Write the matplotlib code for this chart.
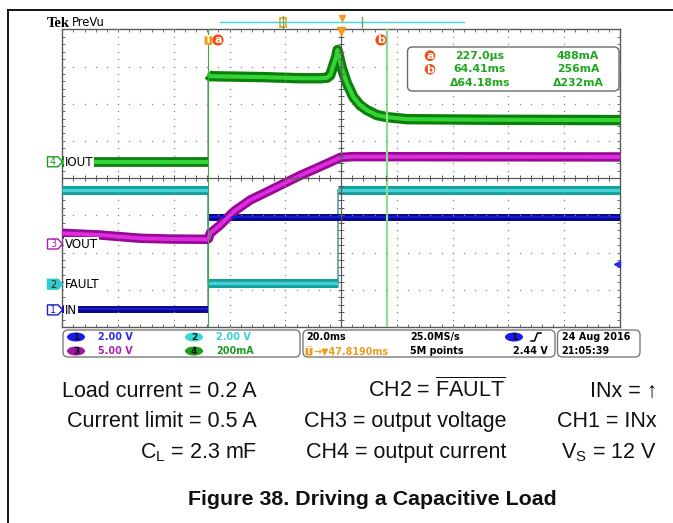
import numpy as np
import matplotlib
matplotlib.use("Agg")
import matplotlib.pyplot as plt
from matplotlib.patches import FancyBboxPatch, Polygon, Rectangle, Ellipse, Circle

time_per_div_ms = 20.0
trigger_pos_ms = 47.819          # time of screen centre, t=0 at the IN rising edge
n_xdiv, n_ydiv = 10, 8

ch_names = ["IN", "FAULT", "VOUT", "IOUT"]
ch_scale = [2.0, 2.0, 5.0, 200.0]            # V/div, V/div, V/div, mA/div
ch_scale_text = ["2.00 V", "2.00 V", "5.00 V", "200mA"]
ch_ground_div = [0.46, 1.15, 2.23, 4.44]     # ground marker position (div from bottom)

# CH1 IN (V)
in_edges_ms = [0.0]
in_levels_v = [0.05, 5.0]
# CH2 FAULT (V)
fault_edges_ms = [0.0, 46.85]
fault_levels_v = [5.06, 0.05, 5.06]
# CH3 VOUT (V)
vout_t_ms = [-52.18, -38.6, -24.2, -13.5, -0.2, 0.26, 0.87, 4.45, 9.22, 15.2,
             21.2, 27.1, 33.1, 39.1, 45.06, 47.5, 52.0, 100.0, 147.82]
vout_v = [1.44, 1.21, 0.77, 0.67, 0.63, 0.74, 1.44, 2.55, 4.34, 5.91,
          7.00, 8.10, 9.20, 10.20, 11.20, 11.64, 11.74, 11.72, 11.70]
# CH4 IOUT (mA)
iout_pre_t_ms = [-52.18, 0.0]
iout_pre_ma = [0.0, 0.0]
iout_post_t_ms = [0.0, 0.87, 20.0, 33.1, 40.3, 42.8, 43.9, 45.06, 46.03, 46.5,
                  48.07, 49.86, 52.23, 54.63, 57.03, 60.61, 64.2, 71.4, 100.0, 147.82]
iout_post_ma = [470, 460, 455, 449, 449, 452, 465, 519, 562, 600,
                503, 423, 347, 304, 278, 251, 240, 229, 226, 224]

cursor_a_ms, cursor_b_ms = 0.227, 64.41
trigger_level_v = 2.44
meas_labels = ["a", "b", ""]
meas_time = ["227.0µs", "64.41ms", "Δ64.18ms"]
meas_value = ["488mA", "256mA", "Δ232mA"]
status_time = ["20.0ms", "→▼47.8190ms"]
status_rate = ["25.0MS/s", "5M points"]
status_date = ["24 Aug 2016", "21:05:39"]

cap_col1 = ["Load current = 0.2 A", "Current limit = 0.5 A", r"C$_\mathrm{L}$ = 2.3 mF"]
cap_col2 = [r"CH2 = $\overline{\mathrm{FAULT}}$", "CH3 = output voltage", "CH4 = output current"]
cap_col3 = ["INx = ↑", "CH1 = INx", r"V$_\mathrm{S}$ = 12 V"]
title = "Figure 38. Driving a Capacitive Load"

# ---------------- styles ----------------
plt.rcParams['mathtext.fontset'] = 'custom'
plt.rcParams['mathtext.rm'] = 'Liberation Sans'
plt.rcParams['mathtext.it'] = 'Liberation Sans:italic'
plt.rcParams['mathtext.bf'] = 'Liberation Sans:bold'

W, H = 673, 523
L, R, T, B = 62.3, 620.0, 29.3, 327.0
GREEN_D, GREEN_L = '#0b7f0b', '#33d433'
CYAN_D, CYAN_L = '#15a0a0', '#45d2d2'
MAG_D, MAG_L = '#960a96', '#e02ce0'
BLUE_D, BLUE_L = '#06068e', '#1a1ad0'
ORANGE = '#f39a1e'
ORED = '#f04e18'
UI = ['DejaVu Sans']

fig = plt.figure(figsize=(W / 100, H / 100), dpi=100)
ax = fig.add_axes([L / W, 1 - B / H, (R - L) / W, (B - T) / H])
T0 = trigger_pos_ms - time_per_div_ms * n_xdiv / 2
T1 = T0 + time_per_div_ms * n_xdiv
ax.set_xlim(T0, T1)
ax.set_ylim(0, n_ydiv)
for s in ax.spines.values():
    s.set_color('#5a5a5a')
    s.set_linewidth(1.0)
ax.set_xticks([T0 + k * time_per_div_ms for k in range(n_xdiv + 1)])
ax.set_xticks([T0 + k * time_per_div_ms / 5 for k in range(n_xdiv * 5 + 1)], minor=True)
ax.set_yticks(range(n_ydiv + 1))
ax.set_yticks(np.arange(0, n_ydiv + 0.01, 0.2), minor=True)
ax.tick_params(which='both', direction='in', length=2.2, width=0.7, color='#6a6a6a',
               top=True, right=True, labelbottom=False, labelleft=False)


def to_div(vals, ch):
    return ch_ground_div[ch] + np.asarray(vals, float) / ch_scale[ch]


def band(t, d, dark, light, lw_o, lw_i):
    ax.plot(t, d, color=dark, lw=lw_o, solid_capstyle='butt', solid_joinstyle='round', zorder=3)
    ax.plot(t, d, color=light, lw=lw_i, solid_capstyle='butt', solid_joinstyle='round', zorder=3.1)


def digital(edges, levels, ch, dark, light, lw_o, lw_i, edge_col):
    bounds = [T0] + list(edges) + [T1]
    for i, lev in enumerate(levels):
        band([bounds[i], bounds[i + 1]], to_div([lev, lev], ch), dark, light, lw_o, lw_i)
    for i, e in enumerate(edges):
        ax.plot([e, e], to_div([levels[i], levels[i + 1]], ch), color=edge_col, lw=1.3, zorder=2.9)


# traces
digital(in_edges_ms, in_levels_v, 0, BLUE_D, BLUE_L, 5.0, 1.6, '#9a9ac8')
digital(fault_edges_ms, fault_levels_v, 1, CYAN_D, CYAN_L, 6.5, 2.4, '#6aa8a8')
band(vout_t_ms, to_div(vout_v, 2), MAG_D, MAG_L, 6.8, 2.8)
band(iout_pre_t_ms, to_div(iout_pre_ma, 3), GREEN_D, GREEN_L, 7.0, 3.0)
ax.plot([iout_post_t_ms[0]] * 2, to_div([iout_pre_ma[-1], iout_post_ma[0]], 3),
        color='#9ab89a', lw=1.3, zorder=2.9)
band(iout_post_t_ms, to_div(iout_post_ma, 3), GREEN_D, GREEN_L, 7.5, 3.0)

# graticule
xs = np.arange(0, n_xdiv + 0.001, 0.2)
ys = np.arange(0, n_ydiv + 0.001, 0.2)
for k in range(1, n_xdiv):
    if k == n_xdiv // 2:
        continue
    ax.plot(np.full(len(ys), T0 + k * time_per_div_ms), ys, ls='none', marker='s', ms=0.9,
            mew=0, color='#8a8a8a', zorder=5)
for j in range(1, n_ydiv):
    if j == n_ydiv // 2:
        continue
    ax.plot(T0 + xs * time_per_div_ms, np.full(len(xs), j), ls='none', marker='s', ms=0.9,
            mew=0, color='#8a8a8a', zorder=5)
xc = T0 + time_per_div_ms * n_xdiv / 2
ax.axhline(n_ydiv / 2, color='#5a5a5a', lw=0.9, zorder=5)
ax.axvline(xc, color='#5a5a5a', lw=0.9, zorder=5)
ax.plot(T0 + xs * time_per_div_ms, np.full(len(xs), n_ydiv / 2), ls='none', marker='|', ms=4,
        mew=0.7, color='#5a5a5a', zorder=5)
ax.plot(np.full(len(ys), xc), ys, ls='none', marker='_', ms=4, mew=0.7, color='#5a5a5a', zorder=5)

# cursors
ax.axvline(cursor_a_ms, color='#3aae3a', lw=0.8, zorder=4)
ax.axvline(cursor_b_ms, color='#92da92', lw=1.6, zorder=4)

# trigger level arrow (CH1)
trig_div = ch_ground_div[0] + trigger_level_v / ch_scale[0]
ax.plot([T1 - 1.2], [trig_div], marker='<', ms=5, color='#2a2aee', zorder=6, clip_on=False)
ax.plot([T1 - 1.5, T1], [trig_div] * 2, color='#2a2aee', lw=1.0, zorder=6)
# trigger position marker
ax.plot([xc], [n_ydiv - 0.05], marker='v', ms=6, color=ORANGE, zorder=7, clip_on=False)

# ---------------- overlay (pixel coordinates) ----------------
ax0 = fig.add_axes([0, 0, 1, 1], zorder=10)
ax0.set_xlim(0, W)
ax0.set_ylim(H, 0)
ax0.axis('off')


def dpx(d):
    return B - d * (B - T) / n_ydiv


# page border
ax0.plot([8, W], [10, 10], color='black', lw=1.3)
ax0.plot([8, 8], [10, H], color='black', lw=1.3)

# header
ax0.text(47, 27, "Tek", fontsize=10.5, fontweight='bold', family=['Liberation Serif'], va='baseline')
ax0.text(71.5, 26.5, "PreVu", fontsize=8.3, family=UI, va='baseline')
ax0.plot([220, 464], [22, 22], color='#3ad6e0', lw=1.0)
ax0.add_patch(Rectangle((280, 18), 6, 9, fc='none', ec=ORANGE, lw=1.2))
ax0.plot([283, 283], [16, 28], color='#52b052', lw=0.9)
ax0.plot([342], [18], marker='v', ms=5, color=ORANGE)
ax0.plot([362, 362], [17, 27], color='#52b052', lw=1.0)

# cursor tags
ax0.add_patch(FancyBboxPatch((204.5, 35), 8, 10, boxstyle='round,pad=0,rounding_size=2',
                             fc=ORANGE, ec='none'))
ax0.text(208.5, 40.3, "T", color='white', fontsize=7, fontweight='bold', family=UI,
         ha='center', va='center')


def tag(x, y, s, r=5.6):
    ax0.add_patch(Circle((x, y), r, fc=ORED, ec='none'))
    ax0.text(x, y + 0.3, s, color='white', fontsize=8, fontweight='bold', family=UI,
             ha='center', va='center')


tag(218, 40, "a")
tag(381, 40, "b")

# measurement box
ax0.add_patch(FancyBboxPatch((407.5, 47), 211.5, 44, boxstyle='round,pad=0,rounding_size=5',
                             fc='white', ec='#6a6a6a', lw=1.0))
row_y = [55.7, 69.3, 82.7]
for i in range(3):
    if meas_labels[i]:
        tag(430, row_y[i], meas_labels[i], r=5.3)
    ax0.text(480, row_y[i], meas_time[i], color='#1fa61f', fontsize=7.8, fontweight='bold',
             family=UI, ha='center', va='center')
    ax0.text(578, row_y[i], meas_value[i], color='#1fa61f', fontsize=7.8, fontweight='bold',
             family=UI, ha='center', va='center')

# channel markers & names
ch_colors = [BLUE_L, '#30cccc', '#b018b0', '#1e9a1e']
ch_filled = [False, True, False, False]
for ch in range(4):
    y = dpx(ch_ground_div[ch])
    c = ch_colors[ch]
    x0, x1, xp, h = 47.5, 58.0, 62.5, 5.0
    ax0.add_patch(Polygon([(x0, y - h), (x1, y - h), (xp, y), (x1, y + h), (x0, y + h)],
                          closed=True, fc=c if ch_filled[ch] else 'white', ec=c, lw=1.0))
    ax0.text((x0 + x1) / 2 + 0.3, y + 0.3, str(ch + 1), color='#202020' if ch_filled[ch] else c,
             fontsize=7, family=UI, ha='center', va='center')
    ax0.text(64.5, y + 0.3, ch_names[ch], color='black', fontsize=8.6, family=UI, ha='left',
             va='center', bbox=dict(boxstyle='square,pad=0.08', fc='white', ec='none'))

# status bar
SFS = 6.9
for (x, w) in [(63, 237), (303, 252), (557.5, 82.5)]:
    ax0.add_patch(FancyBboxPatch((x, 330), w, 27, boxstyle='round,pad=0,rounding_size=5',
                                 fc='white', ec='#7a7a7a', lw=1.0))
sy = [337, 351]
ell_colors = [['#1a1aee', '#35d8d8'], ['#a018a0', '#1e9a1e']]
val_colors = [['#2a2ae6', '#35d0d0'], ['#b020b0', '#1e9a1e']]
for r in range(2):
    for cidx, xe in enumerate([76, 194]):
        ch = r * 2 + cidx
        ax0.add_patch(Ellipse((xe, sy[r]), 18, 9, fc=ell_colors[r][cidx], ec='none'))
        ax0.text(xe, sy[r] + 0.3, str(ch + 1), color='#101010', fontsize=6.5, fontweight='bold',
                 family=UI, ha='center', va='center')
        ax0.text(xe + 22, sy[r] + 0.3, ch_scale_text[ch], color=val_colors[r][cidx], fontsize=SFS,
                 fontweight='bold', family=UI, ha='left', va='center')
ax0.text(306.5, sy[0] + 0.3, status_time[0], color='black', fontsize=SFS, fontweight='bold',
         family=UI, va='center')
ax0.add_patch(FancyBboxPatch((305.5, sy[1] - 4.5), 7, 9, boxstyle='round,pad=0,rounding_size=1.5',
                             fc=ORANGE, ec='none'))
ax0.text(309, sy[1] + 0.3, "T", color='white', fontsize=6, fontweight='bold', family=UI,
         ha='center', va='center')
ax0.text(313, sy[1] + 0.3, status_time[1], color=ORANGE, fontsize=SFS, fontweight='bold',
         family=UI, va='center')
for r in range(2):
    ax0.text(410, sy[r] + 0.3, status_rate[r], color='black', fontsize=SFS, fontweight='bold',
             family=UI, va='center')
    ax0.text(561.5, sy[r] + 0.3, status_date[r], color='black', fontsize=SFS, fontweight='bold',
             family=UI, va='center')
ax0.add_patch(Ellipse((514, sy[0]), 18, 9, fc='#1a1aee', ec='none'))
ax0.text(514, sy[0] + 0.3, "1", color='#101010', fontsize=6.5, fontweight='bold', family=UI,
         ha='center', va='center')
ax0.plot([531, 534.5, 537.5, 541], [341, 341, 333, 333], color='black', lw=1.1)
ax0.text(547.5, sy[1] + 0.3, f"{trigger_level_v:.2f} V", color='black', fontsize=SFS,
         fontweight='bold', family=UI, ha='right', va='center')

# captions
CAP = ['Liberation Sans', 'DejaVu Sans']
base = [397, 427, 458]
for col, xr in [(cap_col1, 257), (cap_col2, 506), (cap_col3, 657)]:
    for i, s in enumerate(col):
        ax0.text(xr, base[i], s, fontsize=15.5, family=CAP, ha='right', va='baseline',
                 color='#111111')
ax0.text(372, 505, title, fontsize=15.4, fontweight='bold', family=CAP, ha='center',
         va='baseline', color='#111111')

fig.savefig("out.png", dpi=100)
